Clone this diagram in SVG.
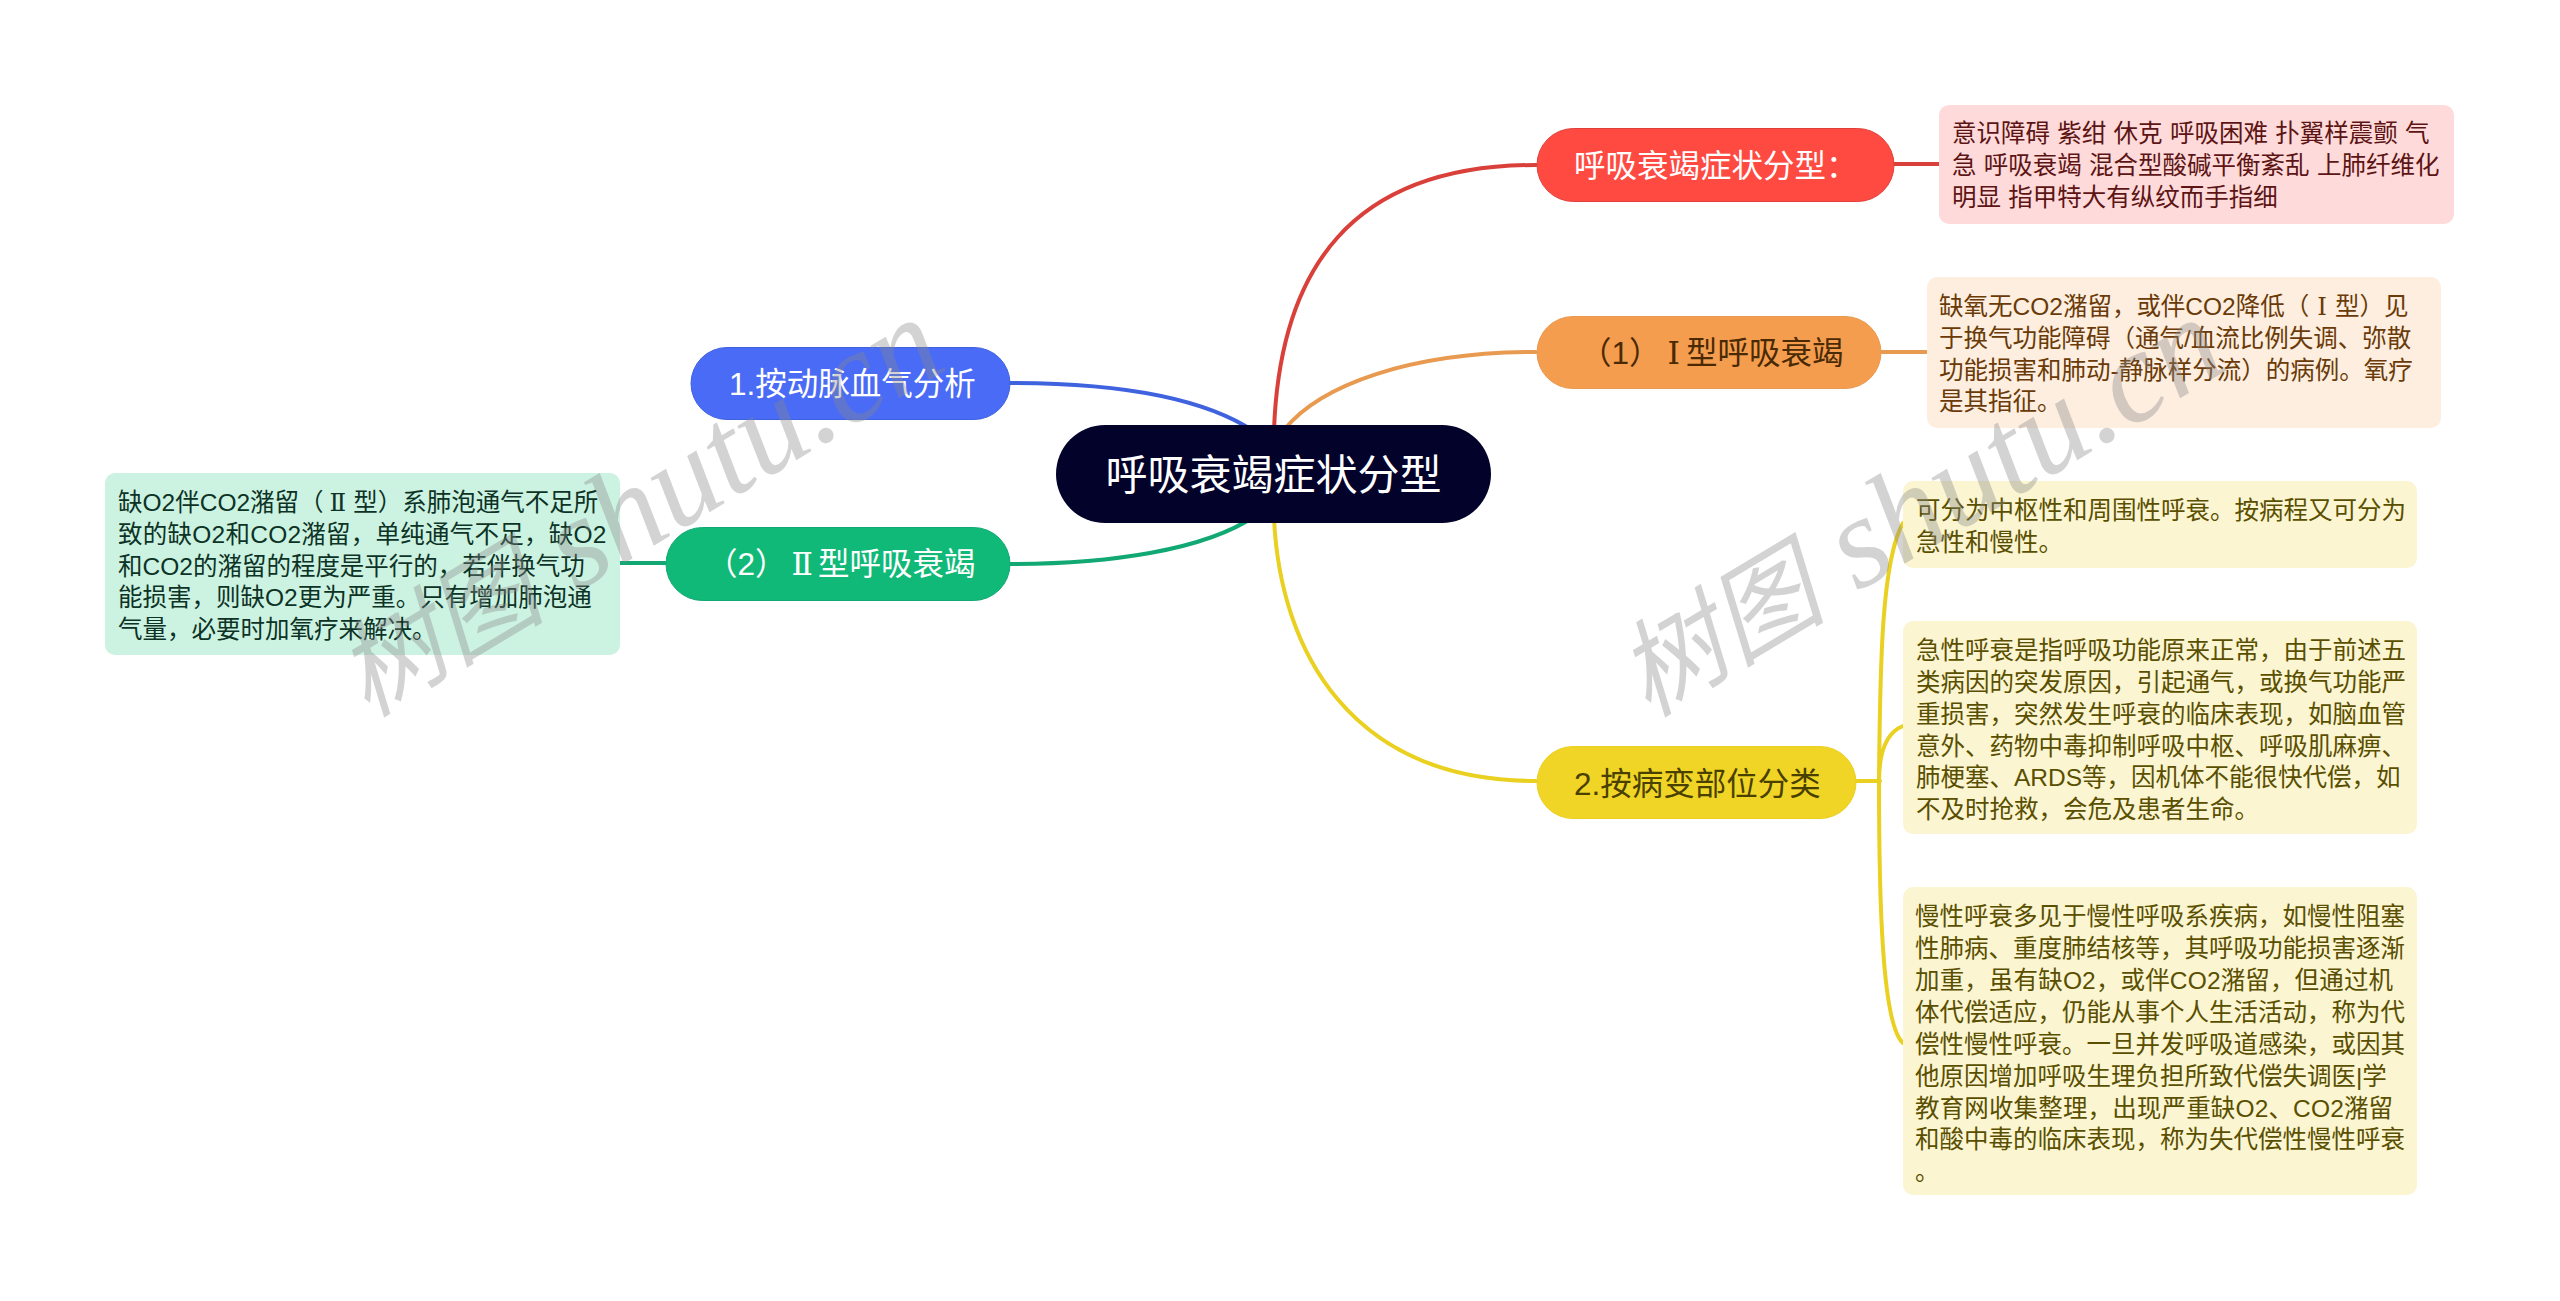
<svg xmlns="http://www.w3.org/2000/svg" width="2560" height="1301" viewBox="0 0 2560 1301">
<style>
text{font-family:"Liberation Sans","Noto Sans CJK SC",sans-serif}
.c{fill:none;stroke-width:4;stroke-linecap:round}
.d{font-size:24.5px}
.b{font-size:31.5px}
.r{font-family:"DejaVu Serif","Noto Sans CJK SC",serif}
.wm{font-style:italic;fill:#888;fill-opacity:.37}
.wc{font-family:"Noto Sans CJK SC",serif;font-size:105px}
.wl{font-family:"Liberation Serif",serif;font-size:130px}
</style>
<rect width="2560" height="1301" fill="#fff"/>
<g id="connectors">
<path class="c" stroke="#d9403a" d="M1274 430C1280 270 1350 165 1536 165"/>
<path class="c" stroke="#d9403a" d="M1894 164H1939"/>
<path class="c" stroke="#e89a50" d="M1284 430C1320 385 1410 352 1536 352"/>
<path class="c" stroke="#e89a50" d="M1881 352H1927"/>
<path class="c" stroke="#3f62df" d="M1255 432C1200 395 1110 383 1010 383"/>
<path class="c" stroke="#11a874" d="M1255 516C1205 550 1110 564 1010 564"/>
<path class="c" stroke="#11a874" d="M620 563H665"/>
<path class="c" stroke="#ead020" d="M1274 518C1280 650 1350 781 1536 781"/>
<path class="c" stroke="#ead020" d="M1856 781H1880"/>
<path class="c" stroke="#ead020" d="M1879 781C1880 660 1882 560 1903 523"/>
<path class="c" stroke="#ead020" d="M1879 781C1879 750 1888 732 1903 726"/>
<path class="c" stroke="#ead020" d="M1879 781C1879 900 1882 1025 1903 1043"/>
</g>
<g id="root"><rect x="1056" y="425" width="435" height="98" rx="49" fill="#02022a"/><text x="1273.5" y="490" font-size="42" fill="#fff" text-anchor="middle">呼吸衰竭症状分型</text></g>
<g id="n-red"><rect x="1537" y="128.500" width="357" height="73" rx="36.500" fill="#ff4a42" stroke="#e0403a"/><text class="b" x="1574" y="177" fill="#fff">呼吸衰竭症状分型：</text></g>
<g id="d-red"><rect x="1939" y="105" width="515" height="119" rx="10" fill="#ffdada"/><text class="d" fill="#5c1414" word-spacing="0.500"><tspan x="1952" y="142">意识障碍 紫绀 休克 呼吸困难 扑翼样震颤 气</tspan><tspan x="1952" y="174">急 呼吸衰竭 混合型酸碱平衡紊乱 上肺纤维化</tspan><tspan x="1952" y="206">明显 指甲特大有纵纹而手指细</tspan></text></g>
<g id="n-orange"><rect x="1537" y="316.500" width="344" height="72" rx="36" fill="#f49d4e" stroke="#e89a50"/><text class="b" x="1580" y="364" fill="#4a2a05">（1）<tspan class="r" dx="7">Ⅰ</tspan><tspan dx="6">型呼吸衰竭</tspan></text></g>
<g id="d-orange"><rect x="1927" y="277" width="514" height="151" rx="10" fill="#fdeedf"/><text class="d" fill="#6a3a08"><tspan x="1939" y="315">缺氧无CO2潴留，或伴CO2降低（<tspan class="r" dx="8">Ⅰ</tspan><tspan dx="8">型）见</tspan></tspan><tspan x="1939" y="347">于换气功能障碍（通气/血流比例失调、弥散</tspan><tspan x="1939" y="379">功能损害和肺动-静脉样分流）的病例。氧疗</tspan><tspan x="1939" y="410">是其指征。</tspan></text></g>
<g id="n-yellow"><rect x="1537" y="746.500" width="319" height="72" rx="36" fill="#f1d526" stroke="#ead020"/><text class="b" x="1574" y="795" fill="#4a4000">2.按病变部位分类</text></g>
<g id="d-y1"><rect x="1903" y="481" width="514" height="87" rx="10" fill="#fbf5d2"/><text class="d" fill="#5a4f00"><tspan x="1916" y="519">可分为中枢性和周围性呼衰。按病程又可分为</tspan><tspan x="1916" y="551">急性和慢性。</tspan></text></g>
<g id="d-y2"><rect x="1903" y="621" width="514" height="213" rx="10" fill="#fbf5d2"/><text class="d" fill="#5a4f00"><tspan x="1916" y="659">急性呼衰是指呼吸功能原来正常，由于前述五</tspan><tspan x="1916" y="691">类病因的突发原因，引起通气，或换气功能严</tspan><tspan x="1916" y="723">重损害，突然发生呼衰的临床表现，如脑血管</tspan><tspan x="1916" y="755">意外、药物中毒抑制呼吸中枢、呼吸肌麻痹、</tspan><tspan x="1916" y="786">肺梗塞、ARDS等，因机体不能很快代偿，如</tspan><tspan x="1916" y="818">不及时抢救，会危及患者生命。</tspan></text></g>
<g id="d-y3"><rect x="1903" y="887" width="514" height="308" rx="10" fill="#fbf5d2"/><text class="d" fill="#5a4f00"><tspan x="1915" y="925">慢性呼衰多见于慢性呼吸系疾病，如慢性阻塞</tspan><tspan x="1915" y="957">性肺病、重度肺结核等，其呼吸功能损害逐渐</tspan><tspan x="1915" y="989" letter-spacing="0.150">加重，虽有缺O2，或伴CO2潴留，但通过机</tspan><tspan x="1915" y="1021" letter-spacing="0">体代偿适应，仍能从事个人生活活动，称为代</tspan><tspan x="1915" y="1053">偿性慢性呼衰。一旦并发呼吸道感染，或因其</tspan><tspan x="1915" y="1085">他原因增加呼吸生理负担所致代偿失调医|学</tspan><tspan x="1915" y="1117" letter-spacing="0.150">教育网收集整理，出现严重缺O2、CO2潴留</tspan><tspan x="1915" y="1148" letter-spacing="0">和酸中毒的临床表现，称为失代偿性慢性呼衰</tspan><tspan x="1915" y="1180">。</tspan></text></g>
<g id="n-blue"><rect x="691" y="347.500" width="319" height="72" rx="36" fill="#4a6bf6" stroke="#3f62df"/><text class="b" x="729" y="395" fill="#fff">1.按动脉血气分析</text></g>
<g id="n-green"><rect x="666" y="527.500" width="344" height="73" rx="36.500" fill="#10b977" stroke="#11a874"/><text class="b" x="706" y="575" fill="#fff">（2）<tspan class="r" dx="5">Ⅱ</tspan><tspan dx="5">型呼吸衰竭</tspan></text></g>
<g id="d-green"><rect x="105" y="473" width="515" height="182" rx="10" fill="#ccf2e2"/><text class="d" fill="#0c3325"><tspan x="118" y="511">缺O2伴CO2潴留（<tspan class="r" dx="6">Ⅱ</tspan><tspan dx="7">型）系肺泡通气不足所</tspan></tspan><tspan x="118" y="543" letter-spacing="0.250">致的缺O2和CO2潴留，单纯通气不足，缺O2</tspan><tspan x="118" y="575" letter-spacing="0">和CO2的潴留的程度是平行的，若伴换气功</tspan><tspan x="118" y="606">能损害，则缺O2更为严重。只有增加肺泡通</tspan><tspan x="118" y="638">气量，必要时加氧疗来解决。</tspan></text></g>
<g id="watermarks"><text class="wm" transform="translate(367 718) rotate(-31)"><tspan class="wc">树图</tspan><tspan class="wl" dx="34">shutu.cn</tspan></text><text class="wm" transform="translate(1648 718) rotate(-31)"><tspan class="wc">树图</tspan><tspan class="wl" dx="34">shutu.cn</tspan></text></g>
</svg>
